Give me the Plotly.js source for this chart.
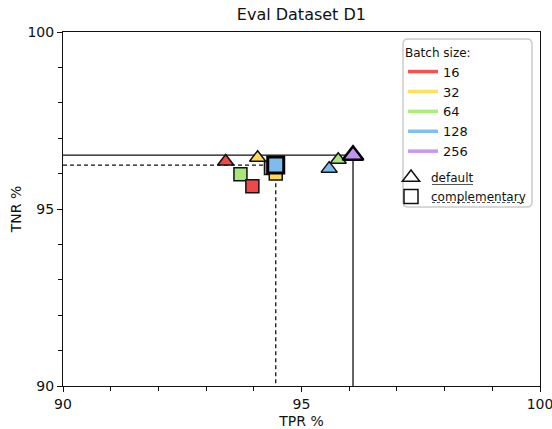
<!DOCTYPE html>
<html>
<head>
<meta charset="utf-8">
<script src="https://cdn.plot.ly/plotly-3.0.1.min.js"></script>
<style>html,body{margin:0;padding:0;background:#fff;}#chart{width:552px;height:429px;}</style>
</head>
<body>
<div id="chart"></div>
<script>
// ---- data ----
var batchSizes = ['16', '32', '64', '128', '256'];
var defaultTPR = [93.41, 94.08, 95.77, 95.58, 96.08];
var defaultTNR = [96.34, 96.45, 96.39, 96.14, 96.52];
var complTPR   = [93.97, 94.46, 93.72, 94.46, 94.36];
var complTNR   = [95.64, 96.00, 95.98, 96.24, 96.16];
var axisMin = 90, axisMax = 100;

// ---- styles ----
var colors = ['#f04848', '#ffd955', '#a6e67a', '#7ebcf0', '#c391f2'];
var legendColors = ['#ff5050', '#ffe060', '#a8ee78', '#80bff4', '#c896f8'];

function argmaxSum(a, b) {
  var bi = 0;
  for (var i = 1; i < a.length; i++) if (a[i] + b[i] > a[bi] + b[bi]) bi = i;
  return bi;
}
var bd = argmaxSum(defaultTPR, defaultTNR);
var bc = argmaxSum(complTPR, complTNR);

var traces = [];
traces.push({x: [axisMin, defaultTPR[bd], defaultTPR[bd]], y: [defaultTNR[bd], defaultTNR[bd], axisMin],
  mode: 'lines', line: {color: '#111', width: 1.3}, showlegend: false, hoverinfo: 'skip'});
traces.push({x: [axisMin, complTPR[bc], complTPR[bc]], y: [complTNR[bc], complTNR[bc], axisMin],
  mode: 'lines', line: {color: '#111', width: 1.3, dash: '4px,3px'}, showlegend: false, hoverinfo: 'skip'});

function ordered(arr, skip) {
  var out = [];
  for (var i = arr.length - 1; i >= 0; i--) if (i !== skip) out.push(arr[i]);
  return out;
}
traces.push({x: ordered(complTPR, bc), y: ordered(complTNR, bc), mode: 'markers', showlegend: false,
  marker: {symbol: 'square', size: 13, color: ordered(colors, bc), line: {color: '#111', width: 1.5}}});
traces.push({x: ordered(defaultTPR, bd), y: ordered(defaultTNR, bd), mode: 'markers', showlegend: false,
  marker: {symbol: 'triangle-up', size: 14, color: ordered(colors, bd), line: {color: '#111', width: 1.5}}});
traces.push({x: [complTPR[bc]], y: [complTNR[bc]], mode: 'markers', showlegend: false,
  marker: {symbol: 'square', size: 16, color: colors[bc], line: {color: '#000', width: 3}}});
traces.push({x: [defaultTPR[bd]], y: [defaultTNR[bd]], mode: 'markers', showlegend: false,
  marker: {symbol: 'triangle-up', size: 18, color: colors[bd], line: {color: '#000', width: 2.5}}});

// legend entries
for (var i = 0; i < batchSizes.length; i++) {
  traces.push({x: [null], y: [null], mode: 'lines', name: batchSizes[i], legend: 'legend',
    line: {color: legendColors[i], width: 3.5}});
}
traces.push({x: [null], y: [null], mode: 'markers', name: 'default', legend: 'legend2',
  marker: {symbol: 'triangle-up', size: 15, color: 'white', line: {color: '#111', width: 1.5}}});
traces.push({x: [null], y: [null], mode: 'markers', name: 'complementary', legend: 'legend2',
  marker: {symbol: 'square', size: 14, color: 'white', line: {color: '#111', width: 1.5}}});

// pixel -> paper helpers for legend frame placement
var L = 63, R = 540, T = 32, B = 386;
function px(x) { return (x - L) / (R - L); }
function py(y) { return (B - y) / (B - T); }
function roundRect(x0, y0, x1, y1, r) {
  return 'M' + px(x0 + r) + ',' + py(y0) + ' L' + px(x1 - r) + ',' + py(y0) +
    ' Q' + px(x1) + ',' + py(y0) + ' ' + px(x1) + ',' + py(y0 + r) +
    ' L' + px(x1) + ',' + py(y1 - r) + ' Q' + px(x1) + ',' + py(y1) + ' ' + px(x1 - r) + ',' + py(y1) +
    ' L' + px(x0 + r) + ',' + py(y1) + ' Q' + px(x0) + ',' + py(y1) + ' ' + px(x0) + ',' + py(y1 - r) +
    ' L' + px(x0) + ',' + py(y0 + r) + ' Q' + px(x0) + ',' + py(y0) + ' ' + px(x0 + r) + ',' + py(y0) + ' Z';
}

var axisCommon = {
  range: [axisMin, axisMax], dtick: 5, tick0: 90, ticks: 'outside', ticklen: 5, tickwidth: 1,
  tickcolor: '#111', showgrid: false, zeroline: false, showline: true, linecolor: '#111',
  linewidth: 1, mirror: true, tickfont: {size: 14, color: '#111'}, ticklabeloverflow: 'allow',
  minor: {dtick: 1, ticks: 'outside', ticklen: 4, tickcolor: '#111', tickwidth: 1, showgrid: false}
};
var layout = {
  width: 552, height: 429,
  margin: {l: 63, r: 12, t: 32, b: 43},
  paper_bgcolor: 'white', plot_bgcolor: 'white',
  font: {family: 'DejaVu Sans, sans-serif', size: 13, color: '#111'},
  title: {text: 'Eval Dataset D1', font: {size: 16, color: '#111'}, x: 0.546, xanchor: 'center', y: 0.967, yanchor: 'middle'},
  xaxis: Object.assign({}, axisCommon, {title: {text: 'TPR %', font: {size: 14}, standoff: 6}}),
  yaxis: Object.assign({}, axisCommon, {title: {text: 'TNR %', font: {size: 14}, standoff: 2}}),
  showlegend: true,
  shapes: [
    {type: 'path', xref: 'paper', yref: 'paper', path: roundRect(403, 39, 532, 207, 5),
     line: {color: '#cccccc', width: 1.5}, fillcolor: 'white', layer: 'above'},
    {type: 'line', xref: 'paper', yref: 'paper', x0: px(432), x1: px(473), y0: py(184.5), y1: py(184.5),
     line: {color: '#555', width: 1}, layer: 'above'},
    {type: 'line', xref: 'paper', yref: 'paper', x0: px(432), x1: px(524), y0: py(202.5), y1: py(202.5),
     line: {color: '#555', width: 1, dash: '3px,2px'}, layer: 'above'}
  ],
  legend: {
    x: px(403), y: py(41), xanchor: 'left', yanchor: 'top',
    bgcolor: 'rgba(0,0,0,0)', borderwidth: 0,
    title: {text: 'Batch size:', font: {size: 12}},
    font: {size: 13}, itemwidth: 30
  },
  legend2: {
    x: px(391), y: py(163), xanchor: 'left', yanchor: 'top',
    bgcolor: 'rgba(0,0,0,0)', borderwidth: 0,
    font: {size: 12}, itemwidth: 30, tracegroupgap: 0
  }
};
Plotly.newPlot('chart', traces, layout, {staticPlot: true, displayModeBar: false});
</script>
</body>
</html>
